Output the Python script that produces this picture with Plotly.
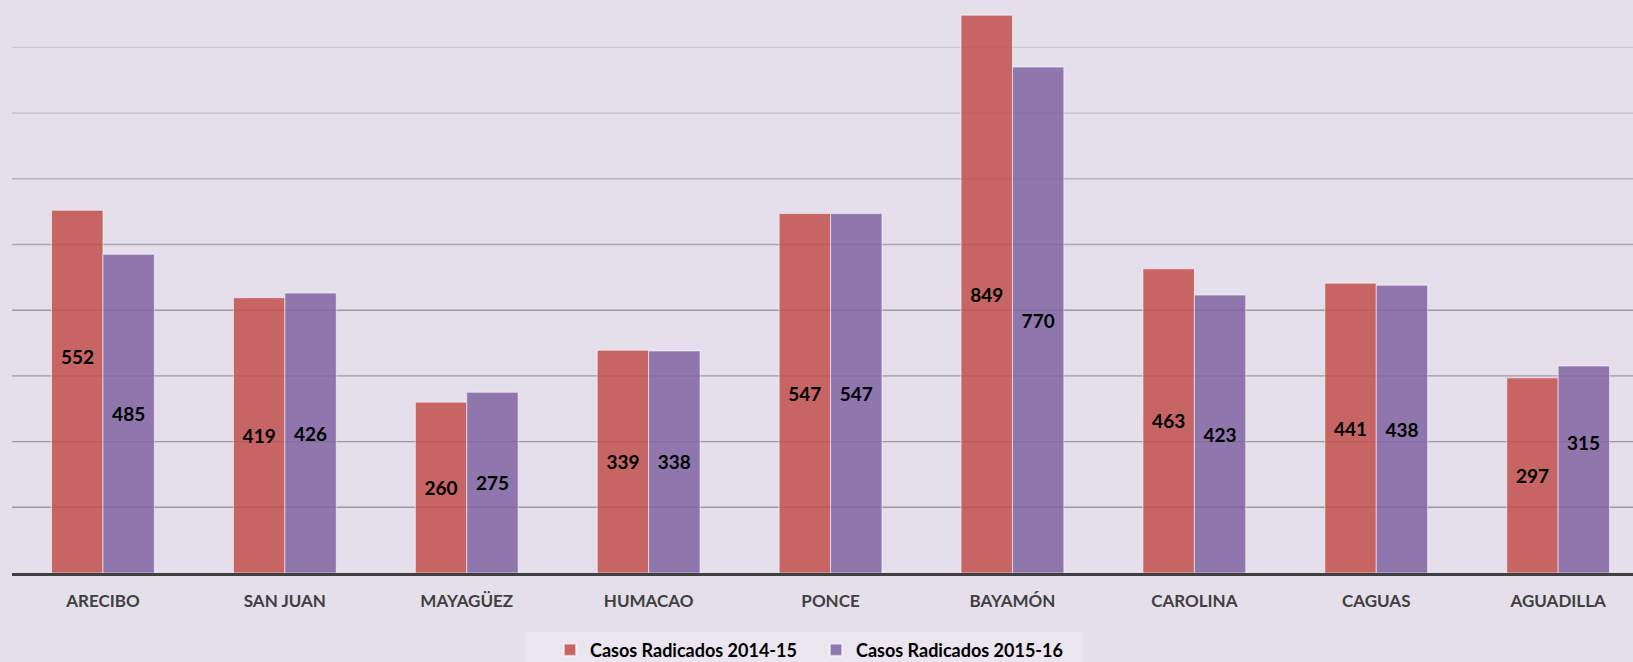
import plotly.graph_objects as go

categories = ["ARECIBO", "SAN JUAN", "MAYAGÜEZ", "HUMACAO", "PONCE", "BAYAMÓN", "CAROLINA", "CAGUAS", "AGUADILLA"]
casos_2014_15 = [552, 419, 260, 339, 547, 849, 463, 441, 297]
casos_2015_16 = [485, 426, 275, 338, 547, 770, 423, 438, 315]
series_names = ["Casos Radicados 2014-15", "Casos Radicados 2015-16"]

# label vertical nudges (pixels) for the few labels moved off-centre in the reference
label_nudge_2014_15 = [35, 0, 0, 0, 0, 0, 0, 0, 0]
label_nudge_2015_16 = [0, 0, 0, 0, 0, 0, 0, 0, 27]

BG = "#E5DFEC"
FONT = "Lato"
PX_PER_UNIT = 0.657
PLOT_BOTTOM = 573
CAT_PX = 181.9
W, H = 1633, 662
ML = 12
GRID_STEP = 100

fig = go.Figure()
series = [
    (casos_2014_15, series_names[0], "rgba(192,80,77,0.86)", label_nudge_2014_15, -1),
    (casos_2015_16, series_names[1], "rgba(128,100,162,0.86)", label_nudge_2015_16, 1),
]
bar_px = CAT_PX * 0.565 / 2
annotations = []
for vals, name, color, nudge, side in series:
    texts = [("" if n else str(v)) for v, n in zip(vals, nudge)]
    fig.add_trace(go.Bar(
        x=categories, y=vals, name=name,
        marker=dict(color=color, line=dict(color="rgba(255,255,255,0.55)", width=1)),
        text=texts, textposition="inside", insidetextanchor="middle",
        textangle=0, constraintext="none",
        textfont=dict(family=FONT, size=19, color="#000000", weight="bold"),
    ))
    for c, v, n in zip(categories, vals, nudge):
        if n:
            annotations.append(dict(
                x=c, y=v / 2, xref="x", yref="y", text=f"<b>{v}</b>", showarrow=False,
                xshift=side * bar_px / 2, yshift=n,
                font=dict(family=FONT, size=19, color="#000000"),
            ))

ymax = PLOT_BOTTOM / PX_PER_UNIT
plot_w = W - ML
xmax = -0.5 + plot_w / CAT_PX

# gridlines that fade towards the top, as in the reference
def grid_color(level):
    t = min(max((level - 400) / 400.0, 0.0), 1.0)
    dark = (156, 153, 161)
    light = (206, 200, 212)
    c = [round(d + (l - d) * t) for d, l in zip(dark, light)]
    return f"rgb({c[0]},{c[1]},{c[2]})"

shapes = []
level = GRID_STEP
while level < ymax:
    shapes.append(dict(type="line", xref="paper", yref="y", x0=0, x1=1, y0=level, y1=level,
                       line=dict(color=grid_color(level), width=1.4), layer="below"))
    level += GRID_STEP

shapes.append(dict(type="rect", xref="paper", yref="paper",
                   x0=(525 - ML) / plot_w, x1=(1083 - ML) / plot_w,
                   y0=(PLOT_BOTTOM - 670) / PLOT_BOTTOM, y1=(PLOT_BOTTOM - 632) / PLOT_BOTTOM,
                   fillcolor="rgba(255,255,255,0.2)", line=dict(width=0), layer="below"))

fig.update_layout(
    width=W, height=H,
    margin=dict(l=ML, r=0, t=0, b=H - PLOT_BOTTOM, autoexpand=False),
    paper_bgcolor=BG, plot_bgcolor=BG,
    barmode="group", bargap=0.435, bargroupgap=0,
    showlegend=True,
    legend=dict(
        orientation="h", x=(550 - ML) / plot_w, xanchor="left",
        y=(PLOT_BOTTOM - 650) / PLOT_BOTTOM, yanchor="middle",
        bgcolor="rgba(0,0,0,0)", font=dict(family=FONT, size=18, color="#000000", weight="bold"),
        itemsizing="constant", entrywidth=221, traceorder="normal",
    ),
    annotations=annotations,
    shapes=shapes,
    font=dict(family=FONT),
)
fig.update_xaxes(
    range=[-0.5, xmax], showgrid=False, showline=True, linecolor="#404040", linewidth=3,
    ticks="", tickfont=dict(family=FONT, size=17, color="#404040", weight="bold"),
    ticklabelstandoff=11,
)
fig.update_yaxes(
    range=[0, ymax], showgrid=False,
    showticklabels=False, zeroline=False, showline=False,
)
fig.write_html("out.html", config={"displayModeBar": False},
               post_script="document.body.style.margin='0';document.body.style.overflow='hidden';")
